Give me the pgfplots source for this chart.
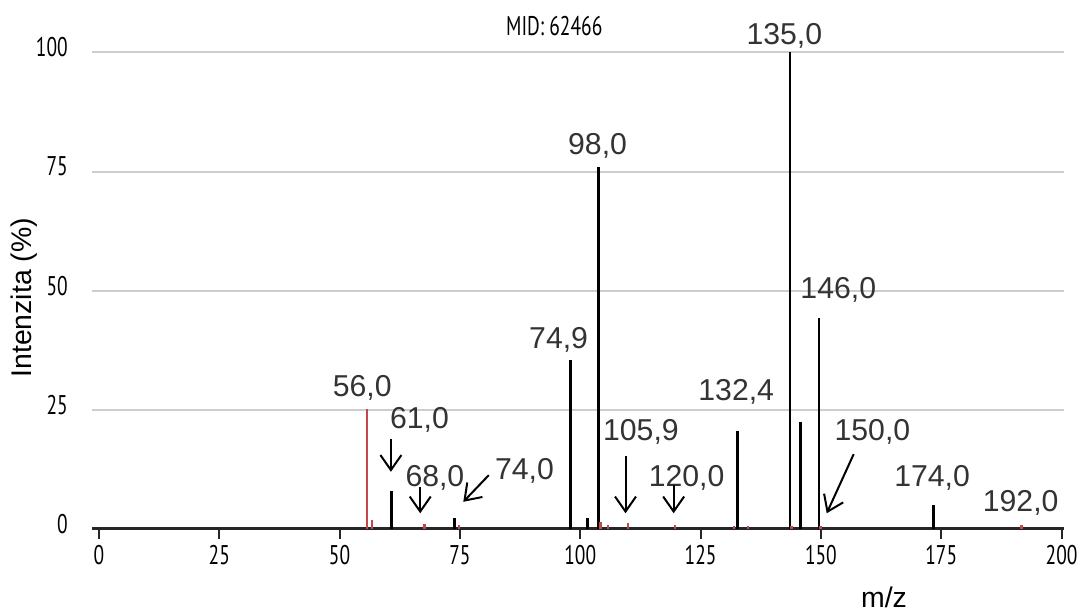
\documentclass[border=0pt]{standalone}
\usepackage{fontspec}
\setmainfont{Liberation Sans}
\newfontfamily\tickfont[FakeStretch=0.72]{PT Sans}
\usepackage{pgfplots}
\pgfplotsset{compat=1.18}
\usetikzlibrary{arrows.meta}
\definecolor{peakred}{RGB}{196,72,72}
\definecolor{gridgray}{RGB}{205,205,205}
\definecolor{annot}{RGB}{51,51,51}

\pgfplotstableread{
x y
60.8 8.0
73.9 2.3
98.0 35.5
101.5 2.3
103.8 76.0
132.7 20.6
143.6 100
145.7 22.4
149.6 44.2
173.4 5.0
}\blackpeaks

\pgfplotstableread{
x y
55.7 25.2
56.7 1.9
67.6 1.1
74.8 0.9
104.2 1.4
105.7 0.8
109.9 1.2
119.7 0.8
132.0 0.6
134.8 0.7
143.9 0.6
149.9 0.6
191.7 0.8
}\redpeaks

\begin{document}
\begin{tikzpicture}
\useasboundingbox (0,0) rectangle (539.5pt,306.5pt);
\begin{axis}[
  at={(45.85pt,42pt)}, anchor=south west,
  scale only axis, width=486.15pt, height=238.3pt,
  xmin=-1.5, xmax=200.5, ymin=0, ymax=100,
  axis x line=bottom, axis y line=left,
  x axis line style={-, line width=1.5pt, color=black!85},
  y axis line style={draw=none},
  xtick={0,25,...,200}, ytick={0,25,50,75,100},
  ymajorgrids, grid style={gridgray, line width=1pt},
  tick align=outside, major tick length=5pt,
  xtick style={black!85, line width=1pt},
  ytick style={draw=none},
  tick label style={font=\tickfont\fontsize{13.5}{13.5}\selectfont},
  /pgf/number format/assume math mode=true,
  xticklabel style={inner sep=0pt, yshift=-3pt},
  yticklabel style={inner sep=0pt, anchor=east, xshift=-6.8pt, yshift=2.5pt},
  clip=false,
]
\addplot[ycomb, black, line width=1.3pt, mark=none] table[x=x,y=y] {\blackpeaks};
\addplot[ycomb, peakred, line width=1.2pt, mark=none] table[x=x,y=y] {\redpeaks};

\node[font=\tickfont\fontsize{13.5}{13.5}\selectfont] at (axis cs:94.6,105.6) {MID: 62466};

\begin{scope}[every node/.style={annot, inner sep=0pt, font=\fontsize{15.1}{15.1}\selectfont}]
\node at (axis cs:142.4,103.5) {135,0};
\node at (axis cs:103.6,80.4) {98,0};
\node at (axis cs:153.6,50.2) {146,0};
\node at (axis cs:95.5,39.7) {74,9};
\node at (axis cs:132.4,28.8) {132,4};
\node at (axis cs:54.7,29.7) {56,0};
\node at (axis cs:66.6,22.9) {61,0};
\node at (axis cs:69.8,10.8) {68,0};
\node at (axis cs:88.4,12.2) {74,0};
\node at (axis cs:112.6,20.3) {105,9};
\node at (axis cs:122.1,10.8) {120,0};
\node at (axis cs:160.7,20.3) {150,0};
\node at (axis cs:173.1,10.8) {174,0};
\node at (axis cs:191.5,5.4) {192,0};
\end{scope}

\begin{scope}[-{Straight Barb[length=7.5pt,width=10.5pt]}, line width=1pt, black]
\draw (axis cs:60.66,18.8) -- (axis cs:60.66,12.0);
\draw (axis cs:66.75,8.9) -- (axis cs:66.75,3.3);
\draw (axis cs:81.0,11.3) -- (axis cs:75.7,5.7);
\draw (axis cs:109.4,15.4) -- (axis cs:109.4,3.3);
\draw (axis cs:119.4,9.2) -- (axis cs:119.4,3.3);
\draw (axis cs:156.8,15.7) -- (axis cs:151.2,3.3);
\end{scope}

\node[rotate=90, font=\fontsize{14.2}{14.2}\selectfont] at (axis cs:-15.5,48.5) {Intenzita (\%)};
\node[anchor=base, font=\fontsize{14.2}{14.2}\selectfont] at (axis cs:163.1,-16.4) {m/z};
\end{axis}
\end{tikzpicture}
\end{document}
